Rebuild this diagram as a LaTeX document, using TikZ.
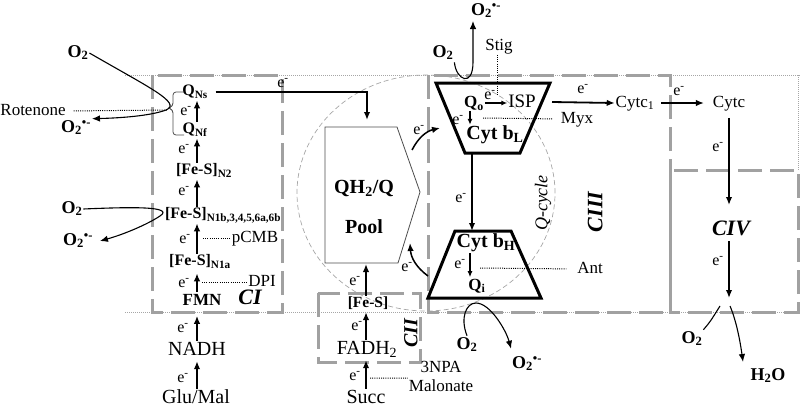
\documentclass[tikz,border=0pt]{standalone}
\usepackage{fontspec}
\setmainfont{Liberation Serif}
\usetikzlibrary{arrows.meta}
\newcommand{\fsz}[1]{\fontsize{#1}{#1}\selectfont}
\newcommand{\elec}{e\textsuperscript{-}}
\newcommand{\Otwo}{O\textsubscript{2}}
\newcommand{\supox}{O\textsubscript{2}\textsuperscript{\textbullet-}}
\begin{document}
\begin{tikzpicture}[x=1pt,y=-1pt,
  every node/.style={inner sep=1pt, outer sep=0pt},
  lab/.style={font=\fsz{20}, text height=14pt, text depth=4.4pt},
  sm/.style={font=\fsz{17}, text height=11.9pt, text depth=3.7pt},
  el/.style={font=\fsz{16}, text height=11.2pt, text depth=3.5pt},
  bq/.style={font=\fsz{16}\bfseries, text height=11.2pt, text depth=3.5pt},
  bqq/.style={font=\fsz{17}\bfseries, text height=11.9pt, text depth=3.7pt},
  bb/.style={font=\fsz{20}\bfseries, text height=14pt, text depth=4.4pt},
  cx/.style={font=\fsz{22}\bfseries\itshape, text height=15.4pt, text depth=4.8pt},
  ox/.style={font=\fsz{18}\bfseries, text height=12.6pt, text depth=4pt},
  cbox/.style={draw=black!37, line width=3pt, dash pattern=on 24pt off 8pt},
  memb/.style={draw=black!35, line width=0.6pt, dash pattern=on 1pt off 1pt},
  arr/.style={-{Latex[length=8pt,width=6.5pt]}, line width=1.8pt},
  sarr/.style={-{Latex[length=6pt,width=5pt]}, line width=1.4pt},
  carr/.style={-{Latex[length=8pt,width=6.5pt]}, line width=1.1pt},
  inh/.style={line width=1pt, dash pattern=on 1pt off 1.2pt},
  trap/.style={draw, line width=3pt},
]
\useasboundingbox (0,0) rectangle (800,407);

% membranes
\draw[memb] (125,75) -- (800,75);
\draw[memb] (125,312) -- (800,312);
\draw[memb] (798,75) -- (798,170);

% Q-cycle
\draw[black!35, line width=0.7pt, dash pattern=on 5pt off 3pt] (426,193) ellipse [x radius=129pt, y radius=118pt];

% complexes
\draw[cbox] (152,75) rectangle (282,312);
\draw[cbox] (318,293) rectangle (420,362);
\draw[cbox] (428,75) rectangle (670,312);
\draw[cbox] (670,170) rectangle (798,312);

% ---------- Complex I ----------
\node[bq] (qns) at (195,92) {Q\textsubscript{Ns}};
\node[bq] (qnf) at (195,130) {Q\textsubscript{Nf}};
\node[bq] (n2) at (204,171) {[Fe-S]\textsubscript{N2}};
\node[bq] (n1b) at (223,215) {[Fe-S]\textsubscript{N1b,3,4,5,6a,6b}};
\node[bq] (n1a) at (200,262) {[Fe-S]\textsubscript{N1a}};
\node[bqq] (fmn) at (202,301) {FMN};
\node[cx] (ci) at (250,299) {CI};
\node[lab] (nadh) at (197,351) {NADH};
\node[lab] (glu) at (196,399) {Glu/Mal};

\coordinate (xa) at (197,0);
\draw[arr] (qnf.north -| xa) -- (qns.south -| xa);
\draw[arr] (n2.north -| xa) -- (qnf.south -| xa);
\draw[arr] (n1b.north -| xa) -- (n2.south -| xa);
\draw[arr] (n1a.north -| xa) -- (n1b.south -| xa);
\draw[arr, shorten >=3pt] (fmn.north -| xa) -- (n1a.south -| xa);
\draw[arr, shorten >=6pt] (nadh.north -| xa) -- (fmn.south -| xa);
\draw[arr] (glu.north -| xa) -- (nadh.south -| xa);

\node[el] at (186,112) {\elec};
\node[el] at (184,150) {\elec};
\node[el] at (184,192) {\elec};
\node[el] at (185,240) {\elec};
\node[el] at (184,284) {\elec};
\node[el] at (183,329) {\elec};
\node[el] at (183,379) {\elec};

% bracket
\draw[line width=0.8pt, black!70, rounded corners=3pt] (184,92) -- (173,92) -- (173,106) -- (168,108) -- (173,110) -- (173,135) -- (184,135);

% inhibitors CI
\node[sm] (rot) at (33,111) {Rotenone};
\coordinate (rotend) at (168,110);
\draw[inh, shorten <=7pt] (rot.east) -- (rotend);
\node[sm] (pcmb) at (255,238) {pCMB};
\coordinate (pc0) at (203,238);
\draw[inh] (pc0) -- (pcmb.west);
\node[sm] (dpi) at (262,282) {DPI};
\coordinate (dp0) at (202,282);
\draw[inh] (dp0) -- (dpi.west);

% O2 at CI
\node[ox] (o2a) at (78,53) {\Otwo};
\node[ox] (sa) at (76,128) {\supox};
\draw[carr] (o2a.east) .. controls (150,88) and (182,103) .. (166,110) .. controls (150,116) and (120,118) .. (sa.north east);
\node[ox] (o2b) at (72,209) {\Otwo};
\node[ox] (sb) at (78,241) {\supox};
\draw[carr] (o2b.east) .. controls (130,207) and (175,206) .. (160,216) .. controls (148,224) and (125,234) .. ([xshift=6pt]sb.east);

% ---------- Q pool ----------
\draw[black!70, line width=0.8pt] (325,127) -- (397,127) -- (420,192) -- (398,263) -- (325,263) -- cycle;
\node[bb] (qh) at (364,189) {QH\textsubscript{2}/Q};
\node[bb] (pool) at (364,229) {Pool};
\coordinate (pooltop) at (367,120);
\draw[arr, shorten <=7pt] (qns.east) -| (pooltop);
\node[el] at (283,84) {\elec};

% ---------- Complex II ----------
\node[font=\fsz{15.5}\bfseries, text height=10.9pt, text depth=3.4pt] (fes) at (368,304) {[Fe-S]};
\node[lab] (fadh) at (367,350) {FADH\textsubscript{2}};
\node[lab] (succ) at (366,399) {Succ};
\coordinate (xb) at (366,0);
\coordinate (poolbot) at (366,264);
\draw[arr] (fes.north -| xb) -- (poolbot);
\draw[arr] (fadh.north -| xb) -- (fes.south -| xb);
\draw[arr] (succ.north -| xb) -- (fadh.south -| xb);
\node[el] at (355,282) {\elec};
\node[el] at (357,327) {\elec};
\node[el] at (355,377) {\elec};
\node[sm] (npa) at (441,368) {3NPA};
\node[sm] (malo) at (441,387) {Malonate};
\coordinate (ms) at (370,378);
\draw[inh] (ms) -- (malo.north west);
\node[cx, font=\fsz{20}\bfseries\itshape, rotate=90] (cii) at (412,333) {CII};

% ---------- Complex III ----------
\coordinate (pa1) at (412,150);
\coordinate (pa2) at (440,128);
\draw[carr, line width=1.5pt] (pa1) to[bend left=25] (pa2);
\node[el] at (419,131) {\elec};
\coordinate (pb1) at (428,276);
\coordinate (pb2) at (410,243);
\draw[carr, line width=1.5pt] (pb1) to[bend left=25] (pb2);
\node[el] at (407,268) {\elec};

\draw[trap] (436,83) -- (550,83) -- (520,153) -- (465,153) -- cycle;
\node[bqq, text depth=2pt] (qo) at (474,103) {Q\textsubscript{o}};
\node[font=\fsz{19}, text height=13.3pt, text depth=4.2pt] (isp) at (522,103) {ISP};
\draw[sarr] (qo.east |- isp.west) -- (isp.west);
\node[el] at (490,96) {\elec};
\node[bb] (cytbl) at (495,135) {Cyt b\textsubscript{L}};
\coordinate (xq) at (470,0);
\draw[sarr] (qo.south -| xq) -- (cytbl.north -| xq);
\node[el] at (458,121) {\elec};

\node[sm] (myx) at (577,119) {Myx};
\coordinate (myx0) at (483,118);
\draw[inh, shorten >=7pt] (myx0) -- (myx.west);
\node[sm] (stig) at (499,46) {Stig};
\coordinate (stig1) at (497,95);
\draw[inh] (stig.south -| stig1) -- (stig1);

\node[ox] (o2c) at (443,53) {\Otwo};
\node[ox] (sc) at (486,11) {\supox};
\coordinate (sct) at (473,21);
\draw[carr] (o2c.south east) .. controls (456,80) and (473,88) .. (473,62) -- (sct);

\coordinate (blb) at (472,153);
\coordinate (bht) at (472,231);
\draw[arr] (blb) -- (bht);
\node[el] at (461,199) {\elec};

\draw[trap] (455,231) -- (511,231) -- (541,298) -- (428,298) -- cycle;
\node[bb] (cytbh) at (486,243) {Cyt b\textsubscript{H}};
\node[bqq] (qi) at (477,286) {Q\textsubscript{i}};
\draw[sarr] (cytbh.south -| xq) -- (qi.north -| xq);
\node[el] at (460,265) {\elec};
\node[sm] (ant) at (590,269) {Ant};
\coordinate (ant0) at (480,268);
\draw[inh, shorten >=10pt] (ant0) -- (ant.west);

\node[ox] (o2d) at (467,345) {\Otwo};
\node[ox] (sd) at (527,364) {\supox};
\draw[carr] (o2d.north) .. controls (460,318) and (466,303) .. (476,303) .. controls (490,303) and (506,330) .. ([yshift=6pt]sd.north west);

\node[cx, rotate=90] (ciii) at (597,212) {CIII};
\node[font=\fsz{18}\itshape, rotate=90] (qcyc) at (543,203) {Q-cycle};

% ---------- cytochromes, CIV ----------
\coordinate (blr) at (552,102);
\node[sm] (c1) at (635,103) {Cytc\textsubscript{1}};
\draw[arr] (blr) -- (c1.west);
\node[el] at (583,90) {\elec};
\node[sm] (cytc) at (729,103) {Cytc};
\draw[arr, shorten <=6pt, shorten >=8pt] (c1.east) -- (cytc.west);
\node[el] at (679,92) {\elec};
\node[cx] (civ) at (731,230) {CIV};
\coordinate (civin) at (729,205);
\draw[arr] ([yshift=-6pt]cytc.south) -- (civin);
\node[el] at (718,148) {\elec};
\coordinate (civout) at (729,298);
\draw[arr] (civ.south -| civout) -- (civout);
\node[el] at (718,262) {\elec};

\node[ox] (o2e) at (692,339) {\Otwo};
\node[ox] (h2o) at (768,376) {H\textsubscript{2}O};
\coordinate (o2top) at (720,306);
\draw[line width=1.1pt] (o2e.north east) .. controls (710,322) .. (o2top);
\coordinate (h0) at (730,306);
\coordinate (h1) at (743,362);
\draw[carr] (h0) .. controls (736,320) and (740,340) .. (h1);
\end{tikzpicture}
\end{document}
